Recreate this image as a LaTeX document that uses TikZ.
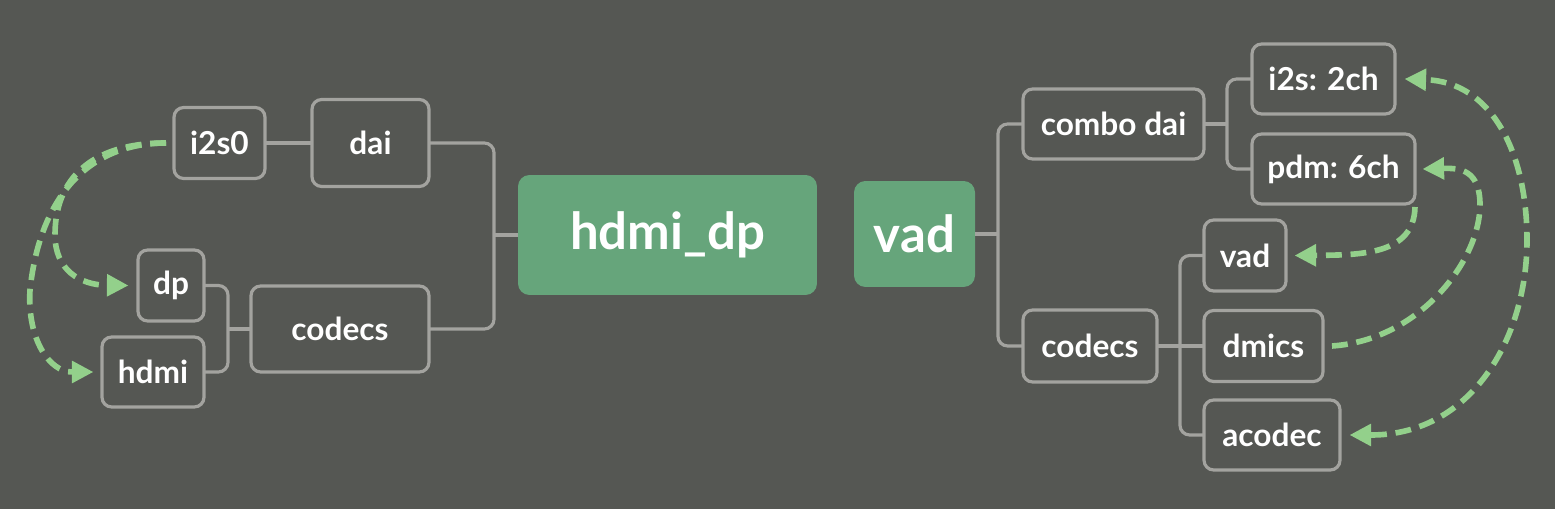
\documentclass[tikz,border=0pt]{standalone}
\usepackage{fontspec}
\setmainfont{Lato}
\usetikzlibrary{arrows.meta}
\definecolor{bgc}{HTML}{555753}
\definecolor{boxc}{HTML}{A3A39F}
\definecolor{fillg}{HTML}{66A57B}
\definecolor{dashg}{HTML}{93D08B}
\tikzset{
  box/.style={draw=boxc, line width=1.8pt, rounded corners=5.5pt, inner sep=0pt, outer sep=0pt,
    text=white, font=\fontsize{18pt}{21pt}\selectfont\bfseries},
  bigbox/.style={fill=fillg, rounded corners=6.5pt, inner sep=0pt, outer sep=0pt,
    text=white, font=\fontsize{29pt}{34pt}\selectfont\bfseries},
  conn/.style={draw=boxc, line width=1.8pt, rounded corners=5.5pt},
  tipg/.tip={Triangle[length=12pt,width=13pt,line width=0pt]},
  dashc/.style={draw=dashg, line width=3.2pt, dash pattern=on 9pt off 5pt, -tipg},
  dashboth/.style={draw=dashg, line width=3.2pt, dash pattern=on 9pt off 5pt, tipg-tipg}
}
\begin{document}
\begin{tikzpicture}[x=0.02cm,y=-0.02cm]
\fill[bgc] (0,0) rectangle (1555,509);
\useasboundingbox (0,0) rectangle (1555,509);

% left side
\node[box, minimum width=1.82cm, minimum height=1.42cm] (i2s0) at (219.5,143) {i2s0};
\node[box, minimum width=2.34cm, minimum height=1.74cm] (dai) at (370.5,143) {dai};
\node[box, minimum width=1.32cm, minimum height=1.42cm] (dp) at (171,285.5) {dp};
\node[box, minimum width=2.04cm, minimum height=1.40cm] (hdmi) at (153,372) {hdmi};
\node[box, minimum width=3.56cm, minimum height=1.72cm] (codecsL) at (340,329) {codecs};
\node[bigbox, minimum width=5.98cm, minimum height=2.40cm] (hdmidp) at (667.5,235) {hdmi\_dp};

% right side
\node[bigbox, minimum width=2.42cm, minimum height=2.12cm] (vadB) at (914.5,234) {vad};
\node[box, minimum width=3.62cm, minimum height=1.40cm] (combo) at (1113.5,124) {combo dai};
\node[box, minimum width=2.86cm, minimum height=1.40cm] (i2sch) at (1323.5,79) {i2s: 2ch};
\node[box, minimum width=3.26cm, minimum height=1.40cm] (pdm) at (1333.5,169) {pdm: 6ch};
\node[box, minimum width=1.64cm, minimum height=1.42cm] (vadS) at (1245,255.5) {vad};
\node[box, minimum width=2.68cm, minimum height=1.44cm] (codecsR) at (1090,346) {codecs};
\node[box, minimum width=2.38cm, minimum height=1.42cm] (dmics) at (1263.5,346) {dmics};
\node[box, minimum width=2.72cm, minimum height=1.40cm] (acodec) at (1272,435) {acodec};

% junctions
\coordinate (jL) at (494,235);
\coordinate (jL2) at (228,329);
\coordinate (jR) at (998,234);
\coordinate (jR2) at (1227,124);
\coordinate (jR3) at (1180,346);

% tree connectors
\draw[conn] (i2s0.east) -- (dai.west);
\draw[conn] (dai.east) -| (jL) |- (codecsL.east);
\draw[conn] (jL) -- (hdmidp.west);
\draw[conn] (dp.east) -| (jL2) |- (hdmi.east);
\draw[conn] (jL2) -- (codecsL.west);
\draw[conn] (combo.west) -| (jR) |- (codecsR.west);
\draw[conn] (vadB.east) -- (jR);
\draw[conn] (i2sch.west) -| (jR2) |- (pdm.west);
\draw[conn] (combo.east) -- (jR2);
\draw[conn] (vadS.west) -| (jR3) |- (acodec.west);
\draw[conn] (codecsR.east) -- (dmics.west);

% dashed links
\draw[dashc] ([xshift=-0.16cm]i2s0.west) .. controls (90,143) and (55,180) .. (55,235)
   .. controls (55,270) and (80,285) .. ([xshift=-0.2cm]dp.west);
\draw[dashc] ([xshift=-0.16cm]i2s0.west) .. controls (90,143) and (40,195) .. (30,290)
   .. controls (27,340) and (50,372) .. ([xshift=-0.18cm]hdmi.west);
\draw[dashc] ([yshift=-0.06cm]pdm.south east) .. controls (1414,255) and (1360,255) .. ([xshift=0.18cm]vadS.east);
\draw[dashc] ([xshift=0.18cm]dmics.east) .. controls (1420,340) and (1480,260) .. (1480,205)
   .. controls (1480,170) and (1460,168) .. ([xshift=0.16cm]pdm.east);
\draw[dashboth] ([xshift=0.2cm]acodec.east) .. controls (1470,435) and (1527,340) .. (1527,240)
   .. controls (1527,150) and (1490,82) .. ([xshift=0.2cm]i2sch.east);
\end{tikzpicture}
\end{document}
